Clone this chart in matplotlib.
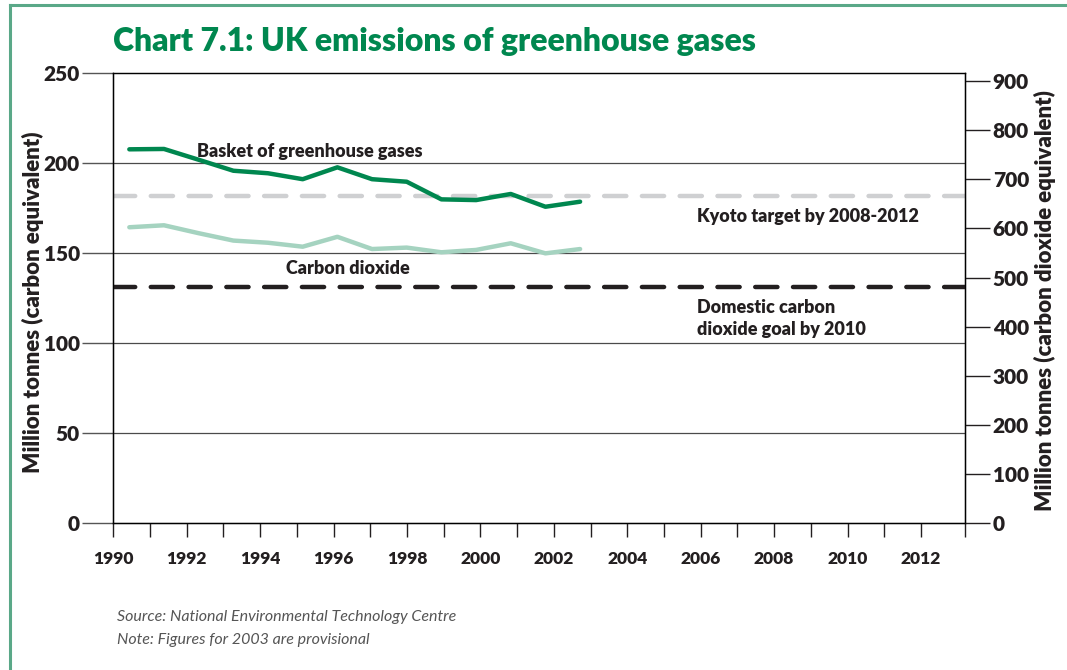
import matplotlib.pyplot as plt
from matplotlib.lines import Line2D

plt.rcParams['font.family'] = ['Lato', 'DejaVu Sans']

years = [1990, 1991, 1992, 1993, 1994, 1995, 1996, 1997, 1998, 1999, 2000, 2001, 2002, 2003]
basket = [207.6, 207.8, 201.8, 195.7, 194.3, 191.0, 197.6, 191.0, 189.6, 179.8, 179.4, 182.8, 175.7, 178.5]
co2 = [164.3, 165.4, 161.0, 156.9, 155.7, 153.5, 159.0, 152.2, 153.0, 150.4, 151.7, 155.4, 149.8, 152.2]
kyoto_target = 181.5
domestic_goal = 131.0
left_ticks = [0, 50, 100, 150, 200, 250]
right_ticks = [0, 100, 200, 300, 400, 500, 600, 700, 800, 900]
year_ticks = list(range(1990, 2013))
year_labels = [str(y) if y % 2 == 0 else '' for y in year_ticks]

dark = '#231f20'
green = '#00874f'
light_green = '#a5d3c0'

fig = plt.figure(figsize=(10.67, 6.7), dpi=100)

# green frame of the chart box
fig.add_artist(Line2D([10/1067, 10/1067], [0, 1 - 5/670], color='#5aa888', lw=2.2))
fig.add_artist(Line2D([10/1067, 1], [1 - 5/670, 1 - 5/670], color='#5aa888', lw=2.2))

ax = fig.add_axes([113.3/1067, 1 - 523/670, (965 - 113.3)/1067, 450/670])
ax.set_xlim(1989.538, 2014.10)
ax.set_ylim(0, 250)

for y in left_ticks[1:-1]:
    ax.axhline(y, color='#4a4a4a', lw=0.9, zorder=1)
ax.axhline(kyoto_target, color='#cfd0d2', lw=3.2, dashes=(5, 3.5), dash_capstyle='round', zorder=2)
ax.axhline(domestic_goal, color=dark, lw=3.2, dashes=(5, 3.5), dash_capstyle='round', zorder=2)
ax.plot(years, co2, color=light_green, lw=3.2, solid_capstyle='round', zorder=3)
ax.plot(years, basket, color=green, lw=3.2, solid_capstyle='round', zorder=4)

ax.set_xticks([])
ax.set_yticks(left_ticks)
ax.set_yticklabels([str(v) for v in left_ticks], fontsize=15, fontweight='heavy', color=dark)
ax.tick_params(axis='y', length=22, width=1, color='#555555', pad=2)
for s in ax.spines.values():
    s.set_color(dark)
    s.set_linewidth(1)
ax.set_ylabel('Million tonnes (carbon equivalent)', fontsize=16, fontweight='heavy', color=dark)
ax.yaxis.set_label_coords(-0.0814, 0.49)

# year axis
axt = ax.twiny()
axt.set_xlim(1990, 2013.2)
axt.xaxis.set_ticks_position('bottom')
axt.xaxis.set_label_position('bottom')
axt.set_xticks(year_ticks + [2013.2])
axt.set_xticklabels(year_labels + [''], fontsize=12.5, fontweight='heavy', color=dark)
axt.tick_params(axis='x', length=10, width=1, color=dark, pad=10)
axt.spines['top'].set_visible(False)

# carbon dioxide equivalent axis
axr = ax.twinx()
axr.set_ylim(0, 250 * 44 / 12)
axr.set_yticks(right_ticks)
axr.set_yticklabels([str(v) for v in right_ticks], fontsize=15, fontweight='heavy', color=dark)
axr.tick_params(axis='y', length=18, width=1, color=dark, pad=2)
axr.set_ylabel('Million tonnes (carbon dioxide equivalent)', fontsize=16, fontweight='heavy', color=dark)
axr.yaxis.set_label_coords(1.081, 0.495)

lab = dict(fontsize=13, fontweight='heavy', color=dark)
axt.text(1992.28, 206.5, 'Basket of greenhouse gases', va='center', **lab)
axt.text(1994.7, 141.5, 'Carbon dioxide', va='center', **lab)
axt.text(2005.9, 170.5, 'Kyoto target by 2008-2012', va='center', **lab)
axt.text(2005.9, 119.5, 'Domestic carbon', va='center', **lab)
axt.text(2005.9, 107.5, 'dioxide goal by 2010', va='center', **lab)

fig.text(113/1067, 1 - 42/670, 'Chart 7.1: UK emissions of greenhouse gases', fontsize=23,
         fontweight='heavy', color=green, va='center')
fig.text(117/1067, 1 - 617/670, 'Source: National Environmental Technology Centre', fontsize=11.5,
         style='italic', color='#555555', va='center')
fig.text(117/1067, 1 - 640/670, 'Note: Figures for 2003 are provisional', fontsize=11.5,
         style='italic', color='#555555', va='center')

fig.savefig('out.png', dpi=100)
